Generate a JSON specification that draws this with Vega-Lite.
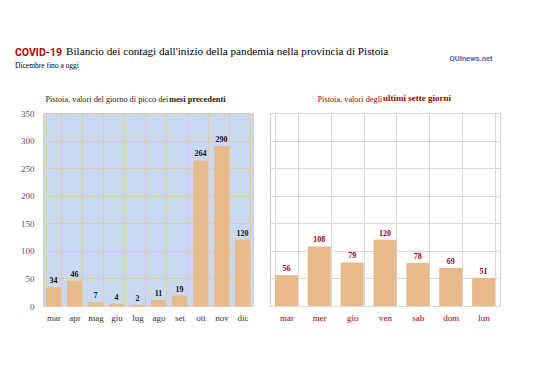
{
  "$schema": "https://vega.github.io/schema/vega-lite/v6.json",
  "padding": {"left": 15, "top": 46, "right": 5, "bottom": 5},
  "background": "white",
  "config": {
    "font": "Liberation Serif",
    "axis": {"labelFont": "Liberation Serif", "titleFont": "Liberation Serif"}
  },
  "title": {
    "text": "COVID-19",
    "subtitle": "Dicembre fino a oggi",
    "anchor": "start",
    "frame": "bounds",
    "dx": -5,
    "dy": 27,
    "font": "Roboto",
    "fontWeight": "bold",
    "fontSize": 10.5,
    "color": "#c00000",
    "subtitleFont": "Liberation Serif",
    "subtitleFontSize": 7.5,
    "subtitleColor": "#000000",
    "subtitlePadding": 3
  },
  "vconcat": [
    {
      "title": {
        "text": "QUInews.net",
        "anchor": "end",
        "frame": "bounds",
        "dx": -8,
        "dy": 20,
        "font": "Roboto",
        "fontWeight": "bold",
        "fontSize": 7.5,
        "color": "#4a6fa8"
      },
      "vconcat": [
        {
          "title": {
            "text": "Bilancio dei contagi dall'inizio della pandemia nella provincia di Pistoia",
            "anchor": "start",
            "frame": "bounds",
            "dx": 46,
            "offset": 36,
            "font": "Liberation Serif",
            "fontWeight": "normal",
            "fontSize": 11.2,
            "color": "#000000"
          },
          "spacing": 15,
          "hconcat": [
            {
              "width": 210,
              "height": 193,
              "data": {"values": [
                {"mese": "mar", "v": 34}, {"mese": "apr", "v": 46}, {"mese": "mag", "v": 7},
                {"mese": "giu", "v": 4}, {"mese": "lug", "v": 2}, {"mese": "ago", "v": 11},
                {"mese": "set", "v": 19}, {"mese": "ott", "v": 264}, {"mese": "nov", "v": 290},
                {"mese": "dic", "v": 120}
              ]},
              "title": {"text": "mesi precedenti", "anchor": "start", "frame": "group", "dx": 126, "dy": 13, "fontWeight": "bold", "fontSize": 8.5, "font": "Liberation Serif", "color": "#222222"},
              "view": {"fill": "#c9d9f2", "stroke": "#d0d0d0"},
              "encoding": {
                "x": {"field": "mese", "type": "nominal", "sort": null,
                  "scale": {"paddingInner": 0.3, "paddingOuter": 0.15},
                  "axis": {"title": null, "labelAngle": 0, "tickBand": "extent", "grid": true, "gridColor": "#e9c9a2", "ticks": false, "domain": false, "labelPadding": 7, "labelFontSize": 9, "labelColor": "#333333"}},
                "y": {"field": "v", "type": "quantitative", "scale": {"domain": [0, 350]},
                  "axis": {"values": [0, 50, 100, 150, 200, 250, 300, 350], "title": "Pistoia, valori del giorno di picco dei", "titleAngle": 0, "titleX": 2, "titleY": -12, "titleAlign": "left", "titleBaseline": "alphabetic", "titleFontWeight": "normal", "titleFontSize": 8.3, "titleColor": "#222222", "gridColor": "#e9c9a2", "domain": false, "ticks": false, "labelPadding": 9, "labelFontSize": 9, "labelColor": "#555555"}}
              },
              "layer": [
                {"mark": {"type": "bar", "color": "#e8b98b"}},
                {"mark": {"type": "text", "dy": -6, "fontWeight": "bold", "fontSize": 8, "color": "#111111"}, "encoding": {"text": {"field": "v", "type": "quantitative"}}}
              ]
            },
            {
              "width": 230,
              "height": 193,
              "data": {"values": [
                {"giorno": "mar", "v": 56}, {"giorno": "mer", "v": 108}, {"giorno": "gio", "v": 79},
                {"giorno": "ven", "v": 120}, {"giorno": "sab", "v": 78}, {"giorno": "dom", "v": 69},
                {"giorno": "lun", "v": 51}
              ]},
              "title": {"text": "ultimi sette giorni", "anchor": "start", "frame": "group", "dx": 113, "dy": 13, "fontWeight": "bold", "fontSize": 9, "font": "Liberation Serif", "color": "#a00000"},
              "view": {"fill": "#ffffff", "stroke": "#d0d0d0"},
              "encoding": {
                "x": {"field": "giorno", "type": "nominal", "sort": null,
                  "scale": {"paddingInner": 0.3, "paddingOuter": 0.15},
                  "axis": {"title": null, "labelAngle": 0, "tickBand": "extent", "grid": true, "gridColor": "#d9d9d9", "ticks": false, "domain": false, "labelPadding": 7, "labelFontSize": 9, "labelColor": "#a00000"}},
                "y": {"field": "v", "type": "quantitative", "scale": {"domain": [0, 350]},
                  "axis": {"values": [0, 50, 100, 150, 200, 250, 300, 350], "labels": false, "title": "Pistoia, valori degli", "titleAngle": 0, "titleX": 47, "titleY": -12, "titleAlign": "left", "titleBaseline": "alphabetic", "titleFontWeight": "normal", "titleFontSize": 8.3, "titleColor": "#a00000", "gridColor": "#d9d9d9", "domain": false, "ticks": false}}
              },
              "layer": [
                {"mark": {"type": "bar", "color": "#e8b98b"}},
                {"mark": {"type": "text", "dy": -6, "fontWeight": "bold", "fontSize": 8, "color": "#a00000"}, "encoding": {"text": {"field": "v", "type": "quantitative"}}}
              ]
            }
          ]
        }
      ]
    }
  ]
}
